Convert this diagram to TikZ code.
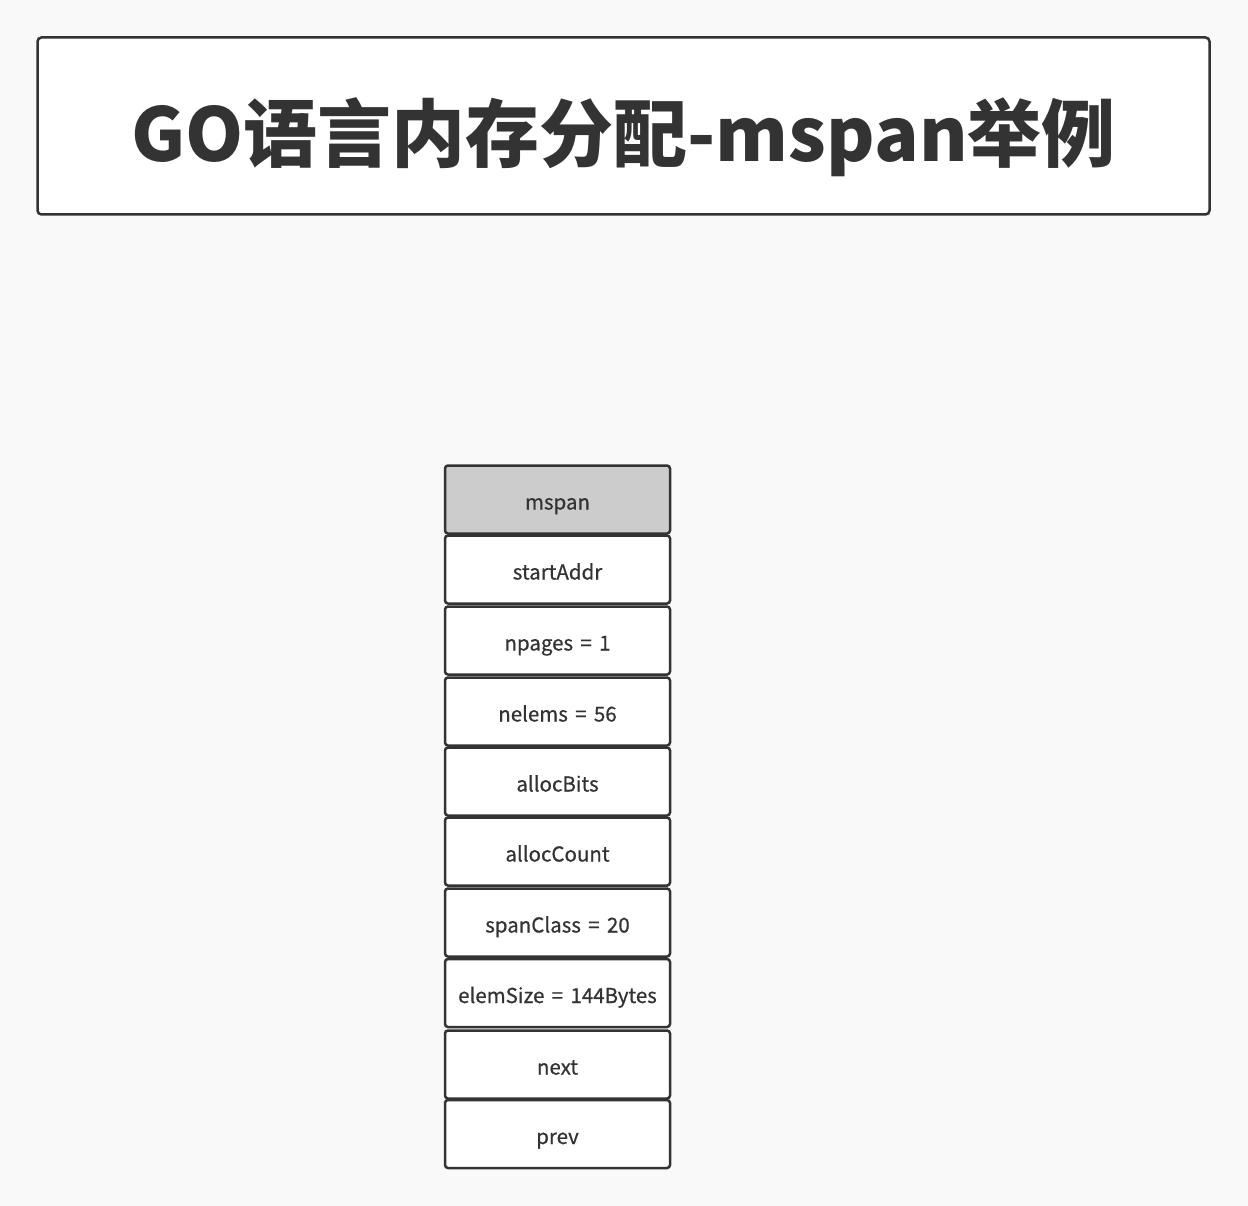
\documentclass[tikz,border=0pt]{standalone}
\usepackage{fontspec}
\setmainfont{Noto Sans CJK SC}
\newfontfamily\fieldfont[FakeBold=0.6, WordSpace=1.6]{Noto Sans CJK SC}
\definecolor{ink}{HTML}{333333}
\definecolor{paper}{HTML}{F9F9F9}
\definecolor{headfill}{HTML}{CCCCCC}
\tikzset{
    field/.style={rectangle, draw=ink, line width=2.5pt, rounded corners=3pt, fill=white,
        minimum width=225pt, minimum height=68pt, inner sep=0pt, text height=24pt, text depth=4pt,
        text=ink, font=\fieldfont\fontsize{20.5pt}{24pt}\selectfont},
    head/.style={field, fill=headfill},
}
\begin{document}
\begin{tikzpicture}[x=1pt, y=-1pt]
    % Canvas
    \fill [paper] (0,0) rectangle (1248,1206);
    \useasboundingbox (0,0) rectangle (1248,1206);

    % Title
    \node (title) at (623.5,126) [rectangle, draw=ink, line width=2.5pt, rounded corners=4pt, fill=white,
        minimum width=1172pt, minimum height=177pt, inner sep=0pt] {};
    \node (titletext) at (623.5,126) [text=ink, inner sep=0pt, text height=78pt, text depth=6pt,
        font=\fontsize{74pt}{80pt}\selectfont\bfseries] {GO语言内存分配-mspan举例};

    % Fields of the mspan
    \node (mspan) at (557.5,499.5) [head] {mspan};
    \node (startaddr) at (557.5,569.5) [field] {startAddr};
    \node (npages) at (557.5,640.5) [field] {npages = 1};
    \node (nelems) at (557.5,711.5) [field] {nelems = 56};
    \node (allocbits) at (557.5,781.5) [field] {allocBits};
    \node (alloccount) at (557.5,851.5) [field] {allocCount};
    \node (spanclass) at (557.5,922.5) [field] {spanClass = 20};
    \node (elemsize) at (557.5,993) [field] {elemSize = 144Bytes};
    \node (next) at (557.5,1064.5) [field] {next};
    \node (prev) at (557.5,1134) [field] {prev};
\end{tikzpicture}
\end{document}
